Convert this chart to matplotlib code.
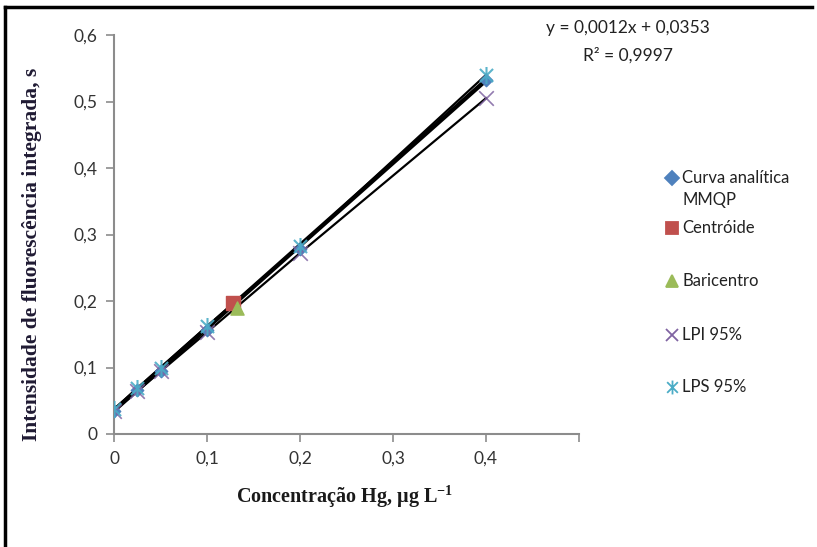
import matplotlib.pyplot as plt
from matplotlib.lines import Line2D
from matplotlib.path import Path

plt.rcParams['mathtext.fontset'] = 'custom'
plt.rcParams['mathtext.rm'] = 'Liberation Serif'
plt.rcParams['mathtext.bf'] = 'Liberation Serif:bold'

# dados
conc = [0, 0.025, 0.05, 0.1, 0.2, 0.4]
curva = [0.035, 0.066, 0.095, 0.157, 0.278, 0.532]
lpi = [0.035, 0.064, 0.094, 0.153, 0.272, 0.505]
lps = [0.037, 0.069, 0.100, 0.162, 0.283, 0.540]
ajuste_x = [0, 0.4]
ajuste_y = [0.0353, 0.532]
centroide = (0.128, 0.197)
baricentro = (0.132, 0.190)

xticks = [0, 0.1, 0.2, 0.3, 0.4, 0.5]
xlabels = ['0', '0,1', '0,2', '0,3', '0,4', '']
yticks = [0, 0.1, 0.2, 0.3, 0.4, 0.5, 0.6]
ylabels = ['0', '0,1', '0,2', '0,3', '0,4', '0,5', '0,6']

azul = '#4F81BD'
vermelho = '#C0504D'
verde = '#9BBB59'
roxo = '#8064A2'
ciano = '#4BACC6'
# asterisco do Excel: um "x" com traço vertical
asterisco = Path([(-1, -1), (1, 1), (-1, 1), (1, -1), (0, -1.3), (0, 1.3)],
                 [Path.MOVETO, Path.LINETO, Path.MOVETO, Path.LINETO,
                  Path.MOVETO, Path.LINETO])

fig = plt.figure(figsize=(8.17, 5.47), dpi=100)
ax = fig.add_axes([114/817, 1-434/547, (579-114)/817, (434-35)/547])

# retas: ajuste (grossa), LPI e LPS (finas)
ax.plot(ajuste_x, ajuste_y, color='black', lw=3.2, zorder=2)
ax.plot(conc, lps, color='black', lw=1.6, zorder=2)
ax.plot(conc, lpi, color='black', lw=1.6, zorder=2)

ax.scatter(conc, curva, marker='D', s=40, color=azul, zorder=3)
ax.scatter(*centroide, marker='s', s=110, color=vermelho, zorder=3)
ax.scatter(*baricentro, marker='^', s=90, color=verde, zorder=3)
ax.scatter(conc, lpi, marker='x', s=110, color=roxo, lw=1.2, alpha=0.85, zorder=4)
ax.scatter(conc, lps, marker=asterisco, s=150, color=ciano, lw=1.5, alpha=0.9, zorder=4)

ax.set_xlim(0, 0.5)
ax.set_ylim(0, 0.6)
ax.set_xticks(xticks)
ax.set_xticklabels(xlabels)
ax.set_yticks(yticks)
ax.set_yticklabels(ylabels)
for s in ['top', 'right']:
    ax.spines[s].set_visible(False)
for s in ['left', 'bottom']:
    ax.spines[s].set_color('#8c8c8c')
    ax.spines[s].set_linewidth(1.5)
ax.tick_params(colors='#8c8c8c', length=6, width=1.2, labelcolor='#333333',
               labelsize=12.5, pad=6)
for t in ax.get_xticklabels() + ax.get_yticklabels():
    t.set_family('Lato')

ax.set_ylabel('Intensidade de fluorescência integrada, s', family='Liberation Serif',
              fontweight='bold', fontsize=15.5, color='#1f1a33')
ax.yaxis.set_label_coords(-0.155, 0.45)
fig.text(345/817, 1-497/547, r'Concentração Hg, µg L$^{\mathbf{-1}}$',
         family='Liberation Serif', fontweight='bold', fontsize=14.5,
         ha='center', va='center', color='#1a1a1a')

fig.text(628/817, 1-28/547, 'y = 0,0012x + 0,0353', family='Lato', fontsize=12.5,
         ha='center', va='center', color='#222222')
fig.text(628/817, 1-55/547, 'R² = 0,9997', family='Lato', fontsize=12.5,
         ha='center', va='center', color='#222222')

# legenda
leg = [('D', azul, 'Curva analítica', 178, 7),
       ('s', vermelho, 'Centróide', 228, 9),
       ('^', verde, 'Baricentro', 281, 9),
       ('x', roxo, 'LPI 95%', 335, 9),
       (asterisco, ciano, 'LPS 95%', 387, 10)]
for m, c, txt, ypix, ms in leg:
    fig.add_artist(Line2D([672/817], [1-ypix/547], marker=m, color=c, ms=ms,
                          mew=1.3, transform=fig.transFigure, linestyle='none'))
    fig.text(682/817, 1-ypix/547, txt, family='Lato', fontsize=12,
             ha='left', va='center', color='#222222')
fig.text(682/817, 1-200/547, 'MMQP', family='Lato', fontsize=12,
         ha='left', va='center', color='#222222')

# moldura
fig.add_artist(Line2D([5/817, 5/817], [0, 1-7/547], color='black', lw=2.5,
                      transform=fig.transFigure))
fig.add_artist(Line2D([5/817, 812/817], [1-7/547, 1-7/547], color='black', lw=2.5,
                      transform=fig.transFigure))

fig.savefig('out.png', dpi=100)
